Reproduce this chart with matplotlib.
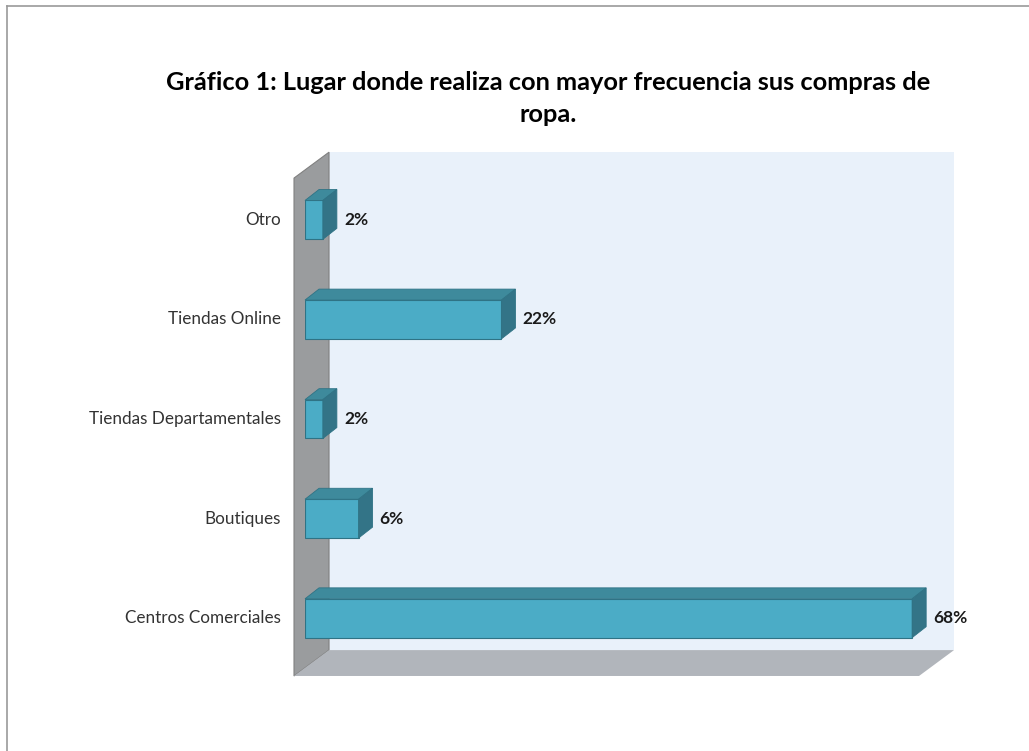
import matplotlib
matplotlib.use("Agg")
import matplotlib.pyplot as plt
from matplotlib.patches import Polygon
from matplotlib.lines import Line2D

# Shopping places (bottom to top) and share of respondents in percent
categories = ["Centros Comerciales", "Boutiques", "Tiendas Departamentales",
              "Tiendas Online", "Otro"]
values = [68, 6, 2, 22, 2]
value_labels = ["68%", "6%", "2%", "22%", "2%"]

TITLE = "Gráfico 1: Lugar donde realiza con mayor frecuencia sus compras de\nropa."
X_MAX = 70

# pseudo-3D look (data units): front plane, back plane and bar depth
FRONT = (-1.23, -0.08)
BACK = (2.69, 0.18)
BAR_DEPTH = (1.57, 0.11)
BAR_H = 0.39

FACE = "#4BACC6"
TOP = "#3E8A9C"
SIDE = "#337487"
EDGE = "#2F7385"

plt.rcParams["font.family"] = ["Lato", "DejaVu Sans"]

fig = plt.figure(figsize=(10.29, 7.51), dpi=100)
ax = fig.add_axes([0.2964, 0.1105, 0.6074, 0.663])
ax.set_xlim(0, X_MAX)
ax.set_ylim(-0.5, len(categories) - 0.5)
ax.axis("off")

y_lo, y_hi = -0.5, len(categories) - 0.5
fx, fy = FRONT
bx, by = BACK

# back wall
ax.add_patch(Polygon([(bx, y_lo + by), (X_MAX + bx, y_lo + by),
                      (X_MAX + bx, y_hi + by), (bx, y_hi + by)],
                     closed=True, facecolor="#E9F1FA", edgecolor="none",
                     clip_on=False, zorder=0))
# side wall
ax.add_patch(Polygon([(fx, y_lo + fy), (bx, y_lo + by), (bx, y_hi + by), (fx, y_hi + fy)],
                     closed=True, facecolor="#9A9C9E", edgecolor="#808080",
                     linewidth=0.8, clip_on=False, zorder=1))
# floor
ax.add_patch(Polygon([(fx, y_lo + fy), (X_MAX + fx, y_lo + fy),
                      (X_MAX + bx, y_lo + by), (bx, y_lo + by)],
                     closed=True, facecolor="#B1B5BB", edgecolor="none",
                     clip_on=False, zorder=1))

ypos = list(range(len(categories)))
bars = ax.barh(ypos, values, height=BAR_H, color=FACE, edgecolor=EDGE,
               linewidth=0.8, zorder=3)

dx, dy = BAR_DEPTH
for rect in bars:
    x0, y0 = rect.get_x(), rect.get_y()
    w, h = rect.get_width(), rect.get_height()
    top = [(x0, y0 + h), (x0 + w, y0 + h), (x0 + w + dx, y0 + h + dy), (x0 + dx, y0 + h + dy)]
    side = [(x0 + w, y0), (x0 + w + dx, y0 + dy), (x0 + w + dx, y0 + h + dy), (x0 + w, y0 + h)]
    ax.add_patch(Polygon(top, closed=True, facecolor=TOP, edgecolor=EDGE,
                         linewidth=0.6, zorder=3, clip_on=False))
    ax.add_patch(Polygon(side, closed=True, facecolor=SIDE, edgecolor=EDGE,
                         linewidth=0.6, zorder=3, clip_on=False))

for y, v, lab in zip(ypos, values, value_labels):
    ax.text(v + dx + 0.8, y, lab, ha="left", va="center",
            fontsize=12.5, fontweight="bold", color="#1a1a1a", zorder=4)

for y, cat in zip(ypos, categories):
    ax.text(fx - 1.5, y, cat, ha="right", va="center",
            fontsize=12.3, color="#333333")

fig.text(0.533, 0.869, TITLE, ha="center", va="center", fontsize=18.3,
         fontweight="bold", color="black", linespacing=1.45)

# thin outer frame on top and left
fig.add_artist(Line2D([0.0068, 1.0], [0.992, 0.992], transform=fig.transFigure,
                      color="#999999", linewidth=1.2))
fig.add_artist(Line2D([0.0068, 0.0068], [0.0, 0.992], transform=fig.transFigure,
                      color="#999999", linewidth=1.2))

fig.savefig("out.png", dpi=100, facecolor="white")
